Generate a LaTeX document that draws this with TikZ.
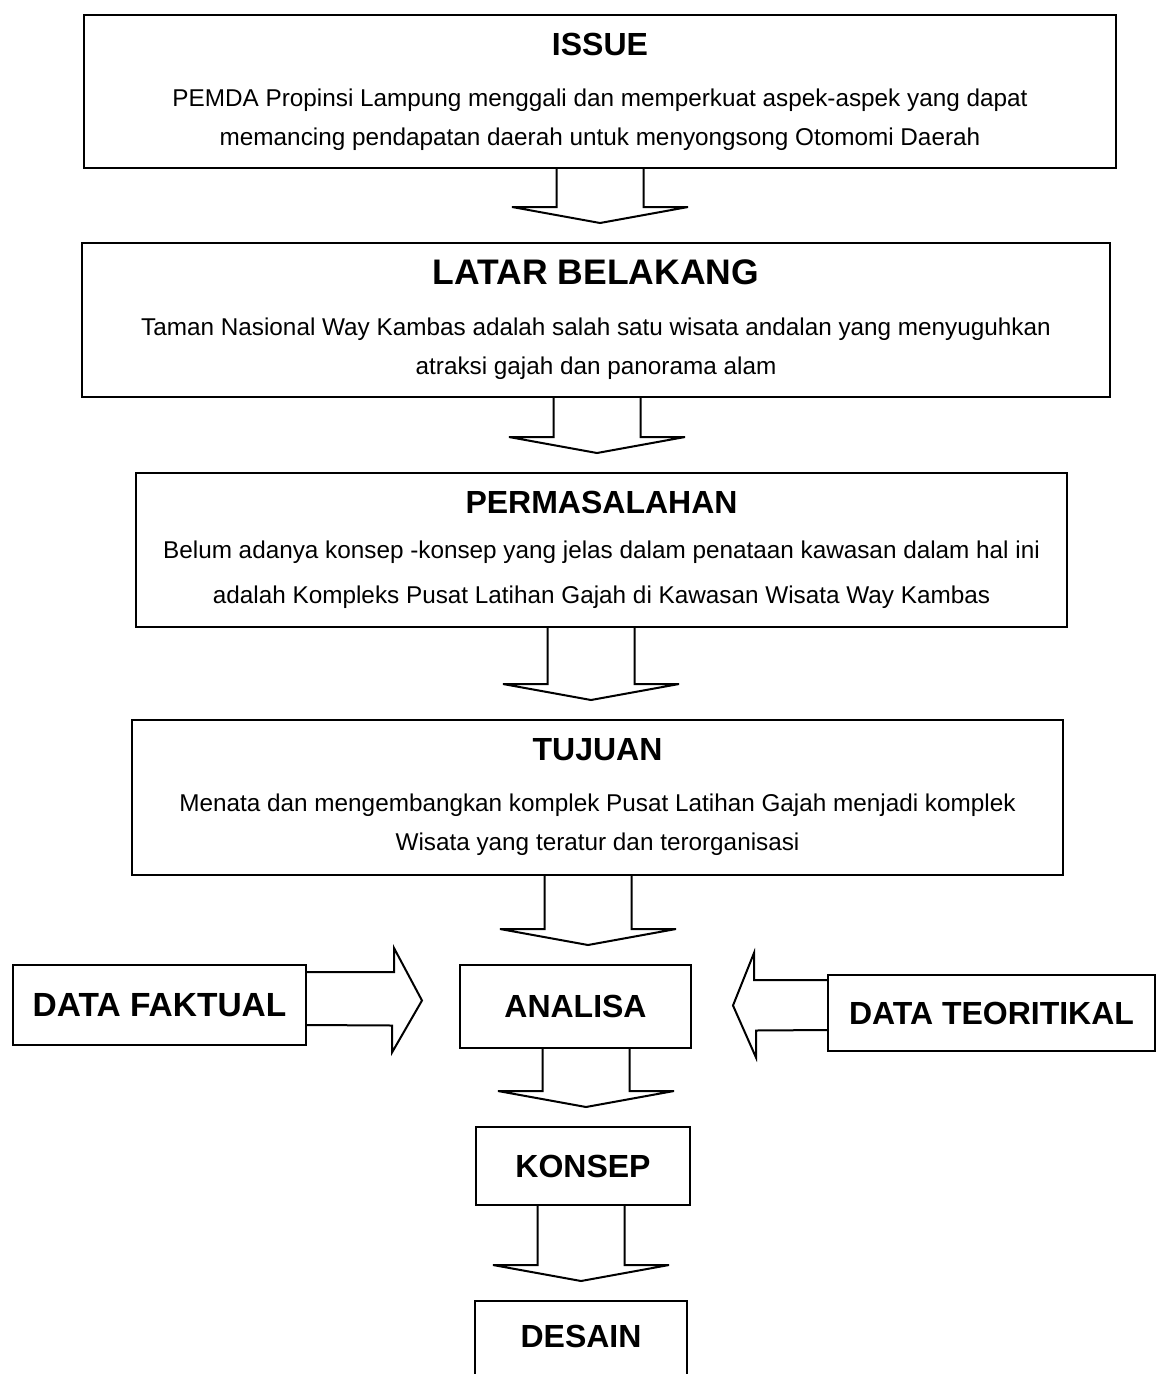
\documentclass[tikz,border=0pt]{standalone}
\usepackage{fontspec}
\setmainfont{Liberation Sans}
\usetikzlibrary{calc}

\newcommand{\boxtitle}[2][32]{{\fontsize{#1}{38}\selectfont\bfseries #2}}
% block arrow pointing down: from node, to node, x of its axis
\newcommand{\downblock}[3]{%
  \draw[blockarr] let \p1=(#1.south), \p2=(#2.north) in
    (#3-43.5,\y1) -- (#3-43.5,\y2+35pt) -- (#3-88,\y2+35pt) -- (#3,\y2+19pt)
    -- (#3+88,\y2+35pt) -- (#3+43.5,\y2+35pt) -- (#3+43.5,\y1);}

\begin{document}
\begin{tikzpicture}[x=1pt, y=-1pt,
  mainbox/.style={draw, line width=2pt, align=center, inner sep=0pt, font=\fontsize{24.3}{39}\selectfont},
  smallbox/.style={draw, line width=2pt, inner sep=0pt, font=\fontsize{32}{36}\selectfont\bfseries},
  blockarr/.style={line width=2pt, line join=miter}]
\useasboundingbox (0,0) rectangle (1156,1374);
\clip (0,0) rectangle (1156,1374);
\node[mainbox, minimum width=1032pt, minimum height=153pt] (issue) at (600,91.5)
  {\boxtitle{ISSUE}\\[12pt]PEMDA Propinsi Lampung menggali dan memperkuat aspek-aspek yang dapat\\
   memancing pendapatan daerah untuk menyongsong Otomomi Daerah};
\node[mainbox, minimum width=1028pt, minimum height=154pt] (latar) at (596,320)
  {\boxtitle[35.5]{LATAR BELAKANG}\\[12pt]Taman Nasional Way Kambas adalah salah satu wisata andalan yang menyuguhkan\\
   atraksi gajah dan panorama alam};
\node[mainbox, minimum width=931pt, minimum height=154pt] (masalah) at (601.5,550)
  {\boxtitle{PERMASALAHAN}\\[6pt]Belum adanya konsep -konsep yang jelas dalam penataan kawasan dalam hal ini\\[6pt]
   adalah Kompleks Pusat Latihan Gajah di Kawasan Wisata Way Kambas};
\node[mainbox, minimum width=931pt, minimum height=155pt] (tujuan) at (597.5,797.5)
  {\boxtitle{TUJUAN}\\[12pt]Menata dan mengembangkan komplek Pusat Latihan Gajah menjadi komplek\\
   Wisata yang teratur dan terorganisasi};
\node[smallbox, minimum width=293pt, minimum height=80pt, font=\fontsize{33.5}{36}\selectfont\bfseries] (faktual) at (159.5,1005) {DATA FAKTUAL};
\node[smallbox, minimum width=231pt, minimum height=83pt] (analisa) at (575.5,1006.5) {ANALISA};
\node[smallbox, minimum width=327pt, minimum height=76pt] (teori) at (991.5,1013) {DATA TEORITIKAL};
\node[smallbox, minimum width=214pt, minimum height=78pt] (konsep) at (583,1166) {KONSEP};
\node[smallbox, minimum width=212pt, minimum height=90pt, text depth=20pt, anchor=north] (desain) at (581,1300) {DESAIN};

\downblock{issue}{latar}{600}
\downblock{latar}{masalah}{597}
\downblock{masalah}{tujuan}{591}
\downblock{tujuan}{analisa}{588}
\downblock{analisa}{konsep}{586}
\downblock{konsep}{desain}{581}

\draw[blockarr] ($(faktual.east)+(0,-33)$) -- ++(87,0) -- ++(0,-24)
  -- ($(analisa.west)+(-37,-6)$) -- ++(-30,52) -- ++(0,-27) -- ($(faktual.east)+(0,20)$);
\draw[blockarr] ($(teori.west)+(0,-33)$) -- ++(-73,0) -- ++(0,-27)
  -- ($(analisa.east)+(41,-1)$) -- ++(23,52) -- ++(0,-27) -- ($(teori.west)+(0,17)$);
\end{tikzpicture}
\end{document}
